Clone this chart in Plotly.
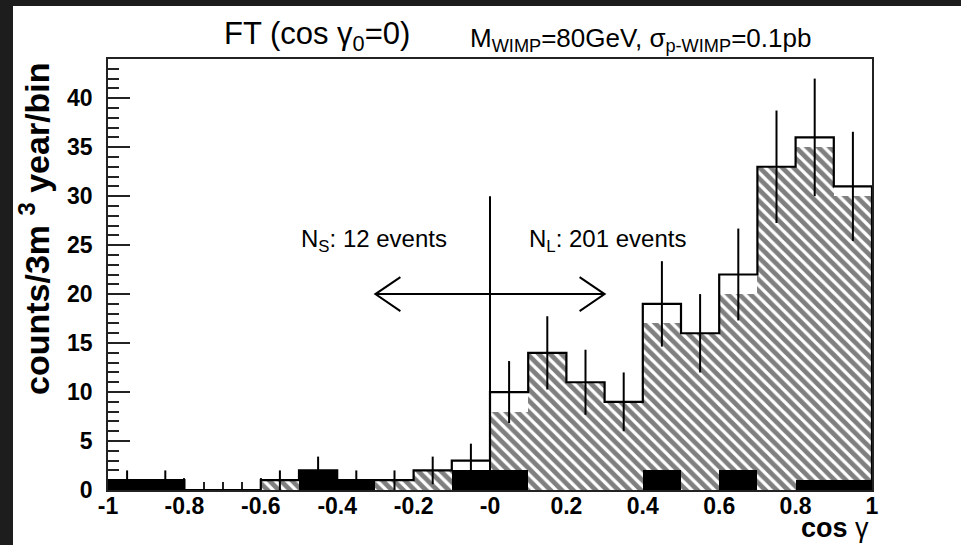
import plotly.graph_objects as go

# ---------------- data ----------------
bin_lo = [-1.0, -0.9, -0.8, -0.7, -0.6, -0.5, -0.4, -0.3, -0.2, -0.1,
          0.0, 0.1, 0.2, 0.3, 0.4, 0.5, 0.6, 0.7, 0.8, 0.9]
bin_width = 0.1
total_counts = [1, 1, 0, 0, 1, 2, 1, 1, 2, 3,
                10, 14, 11, 9, 19, 16, 22, 33, 36, 31]
signal_counts = [0, 0, 0, 0, 1, 0, 0, 1, 2, 1,
                 8, 14, 11, 9, 17, 16, 20, 33, 35, 30]
background_counts = [1, 1, 0, 0, 0, 2, 1, 0, 0, 2,
                     2, 0, 0, 0, 2, 0, 2, 0, 1, 1]
total_errors = [1.0, 1.0, 0.0, 0.0, 1.0, 1.41, 1.0, 1.0, 1.41, 1.73,
                3.16, 3.74, 3.32, 3.0, 4.36, 4.0, 4.69, 5.74, 6.0, 5.57]

x_tick_vals = [-1, -0.8, -0.6, -0.4, -0.2, 0, 0.2, 0.4, 0.6, 0.8, 1]
x_tick_text = ["-1", "-0.8", "-0.6", "-0.4", "-0.2", "-0", "0.2", "0.4", "0.6", "0.8", "1"]
y_tick_vals = [0, 5, 10, 15, 20, 25, 30, 35, 40]

cut_x = 0.0
cut_top = 30
arrow_left, arrow_right, arrow_y = -0.3, 0.3, 20
label_s = "N<sub>S</sub>: 12 events"
label_l = "N<sub>L</sub>: 201 events"

# ---------------- geometry ----------------
W, H = 961, 545
ML, MR, MT, MB = 108, 89, 59, 55
PW, PH = W - ML - MR, H - MT - MB
XR = [-1, 1]
YR = [0, 44]


def px_x(p):
    return (p - ML) / PW


def px_y(p):
    return (H - MB - p) / PH


centers = [b + bin_width / 2 for b in bin_lo]
FONT = "Liberation Sans, Arial, Helvetica, sans-serif"

fig = go.Figure()

# hatched signal histogram
fig.add_trace(go.Bar(
    x=centers, y=signal_counts, width=bin_width,
    marker=dict(color="white",
                pattern=dict(shape="\\", fgcolor="black", bgcolor="white",
                             size=8, solidity=0.6),
                line=dict(width=0)),
    showlegend=False, hoverinfo="skip"))

# black background histogram
fig.add_trace(go.Bar(
    x=centers, y=background_counts, width=bin_width,
    marker=dict(color="black", line=dict(width=0)),
    showlegend=False, hoverinfo="skip"))

# outline of total histogram (step)
step_x = [bin_lo[0]]
step_y = [0]
for lo, v in zip(bin_lo, total_counts):
    step_x += [lo, lo + bin_width]
    step_y += [v, v]
step_x.append(bin_lo[-1] + bin_width)
step_y.append(0)
fig.add_trace(go.Scatter(
    x=step_x, y=step_y, mode="lines",
    line=dict(color="black", width=2.2, shape="linear"),
    showlegend=False, hoverinfo="skip"))

# error bars
fig.add_trace(go.Scatter(
    x=centers, y=total_counts, mode="markers",
    marker=dict(size=1, color="rgba(0,0,0,0)"),
    error_y=dict(type="data", array=total_errors, visible=True,
                 color="black", thickness=2, width=0),
    showlegend=False, hoverinfo="skip"))

# cut line at cos gamma = 0
fig.add_trace(go.Scatter(
    x=[cut_x, cut_x], y=[0, cut_top], mode="lines",
    line=dict(color="black", width=2),
    showlegend=False, hoverinfo="skip"))

# double arrow with open heads
head_dx = 25 / PW * (XR[1] - XR[0])
head_dy = 17 / PH * (YR[1] - YR[0])
ax = [arrow_left, arrow_right, None,
      arrow_left + head_dx, arrow_left, arrow_left + head_dx, None,
      arrow_right - head_dx, arrow_right, arrow_right - head_dx]
ay = [arrow_y, arrow_y, None,
      arrow_y + head_dy, arrow_y, arrow_y - head_dy, None,
      arrow_y + head_dy, arrow_y, arrow_y - head_dy]
fig.add_trace(go.Scatter(
    x=ax, y=ay, mode="lines", line=dict(color="black", width=2),
    showlegend=False, hoverinfo="skip"))

annotations = [
    dict(text=label_s, x=px_x(299), y=px_y(241), xref="paper", yref="paper",
         xanchor="left", yanchor="middle", showarrow=False,
         font=dict(family=FONT, size=24, color="black")),
    dict(text=label_l, x=px_x(527), y=px_y(241), xref="paper", yref="paper",
         xanchor="left", yanchor="middle", showarrow=False,
         font=dict(family=FONT, size=24, color="black")),
    dict(text="FT (cos γ<sub>0</sub>=0)", x=px_x(222), y=px_y(36),
         xref="paper", yref="paper", xanchor="left", yanchor="middle",
         showarrow=False, font=dict(family=FONT, size=31, color="black")),
    dict(text="M<sub>WIMP</sub>=80GeV, σ<sub>p-WIMP</sub>=0.1pb",
         x=px_x(468), y=px_y(40), xref="paper", yref="paper",
         xanchor="left", yanchor="middle", showarrow=False,
         font=dict(family=FONT, size=26, color="black")),
    dict(text="counts/3m <sup>3</sup> year/bin", x=px_x(34), y=px_y(229),
         xref="paper", yref="paper", xanchor="center", yanchor="middle",
         textangle=-90, showarrow=False,
         font=dict(family=FONT, size=34, color="black", weight="bold")),
    dict(text="cos <span style='font-weight:normal'>γ</span>", x=px_x(871), y=px_y(528),
         xref="paper", yref="paper", xanchor="right", yanchor="middle",
         showarrow=False,
         font=dict(family=FONT, size=27, color="black", weight="bold")),
]

shapes = [
    dict(type="rect", xref="paper", yref="paper",
         x0=px_x(0), x1=px_x(13), y0=px_y(H), y1=px_y(0),
         fillcolor="#1d1d1d", line=dict(width=0), layer="above"),
    dict(type="rect", xref="paper", yref="paper",
         x0=px_x(0), x1=px_x(W), y0=px_y(6), y1=px_y(0),
         fillcolor="#1d1d1d", line=dict(width=0), layer="above"),
]

fig.update_layout(
    width=W, height=H,
    margin=dict(l=ML, r=MR, t=MT, b=MB, pad=0),
    paper_bgcolor="white", plot_bgcolor="white",
    barmode="overlay", bargap=0,
    showlegend=False,
    annotations=annotations, shapes=shapes,
    xaxis=dict(range=XR, showgrid=False, zeroline=False,
               showline=True, linecolor="#222", linewidth=1.5, mirror=True,
               ticks="inside", ticklen=12, tickwidth=1.5, tickcolor="#222",
               tickvals=x_tick_vals, ticktext=x_tick_text,
               minor=dict(dtick=0.05, ticks="inside", ticklen=8,
                          tickwidth=1.5, tickcolor="#222"),
               ticklabelstandoff=-5, layer="below traces",
               tickfont=dict(family=FONT, size=23, color="black", weight="bold")),
    yaxis=dict(range=YR, showgrid=False, zeroline=False,
               showline=True, linecolor="#222", linewidth=1.5, mirror=True,
               ticks="inside", ticklen=22, tickwidth=1.5, tickcolor="#222",
               tickvals=y_tick_vals,
               minor=dict(dtick=1, ticks="inside", ticklen=11,
                          tickwidth=1.5, tickcolor="#222"),
               ticklabelstandoff=9, layer="below traces",
               tickfont=dict(family=FONT, size=23, color="black", weight="bold")),
)

fig.write_html("out.html")
